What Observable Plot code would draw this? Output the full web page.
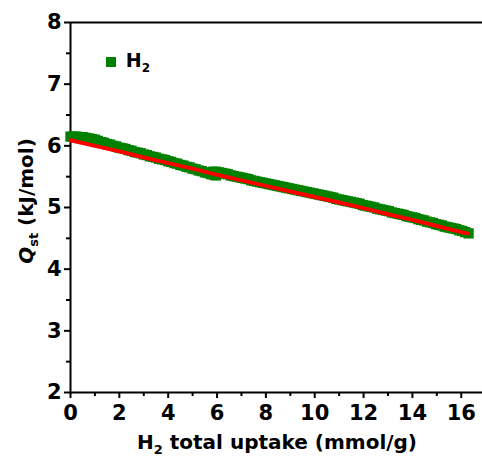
<!DOCTYPE html>
<html><head><meta charset="utf-8">
<script src="https://cdn.jsdelivr.net/npm/d3@7"></script>
<script src="https://cdn.jsdelivr.net/npm/@observablehq/plot@0.6"></script>
<style>
html,body{margin:0;padding:0;background:#fff;}
svg{font-family:"DejaVu Sans",sans-serif;}
svg text{font-weight:bold;fill:#000;}
</style></head>
<body><div id="chart"></div>
<script>
// Measured data (green squares), two runs
const seg1X = [0, 0.125, 0.25, 0.375, 0.5, 0.625, 0.75, 0.875, 1, 1.125, 1.25, 1.375, 1.5, 1.625, 1.75, 1.875, 2, 2.125, 2.25, 2.375, 2.5, 2.625, 2.75, 2.875, 3, 3.125, 3.25, 3.375, 3.5, 3.625, 3.75, 3.875, 4, 4.125, 4.25, 4.375, 4.5, 4.625, 4.75, 4.875, 5, 5.125, 5.25, 5.375, 5.5, 5.625, 5.75, 5.875, 5.96];
const seg1Y = [6.15, 6.15, 6.15, 6.14, 6.14, 6.13, 6.12, 6.11, 6.10, 6.08, 6.06, 6.05, 6.03, 6.02, 6.00, 5.99, 5.97, 5.96, 5.95, 5.93, 5.92, 5.90, 5.89, 5.88, 5.86, 5.85, 5.83, 5.82, 5.81, 5.79, 5.78, 5.77, 5.75, 5.74, 5.72, 5.71, 5.69, 5.68, 5.66, 5.65, 5.63, 5.62, 5.60, 5.59, 5.57, 5.56, 5.54, 5.53, 5.52];
const seg2X = [5.84, 5.96, 6.08, 6.2, 6.32, 6.44, 6.56, 6.68, 6.8, 6.92, 7.04, 7.16, 7.28, 7.4, 7.52, 7.64, 7.76, 7.88, 8, 8.12, 8.24, 8.36, 8.48, 8.6, 8.72, 8.84, 8.96, 9.08, 9.2, 9.32, 9.44, 9.56, 9.68, 9.8, 9.92, 10.04, 10.16, 10.28, 10.4, 10.52, 10.64, 10.76, 10.88, 11, 11.12, 11.24, 11.36, 11.48, 11.6, 11.72, 11.84, 11.96, 12.08, 12.2, 12.32, 12.44, 12.56, 12.68, 12.8, 12.92, 13.04, 13.16, 13.28, 13.4, 13.52, 13.64, 13.76, 13.88, 14, 14.12, 14.24, 14.36, 14.48, 14.6, 14.72, 14.84, 14.96, 15.08, 15.2, 15.32, 15.44, 15.56, 15.68, 15.8, 15.92, 16.04, 16.16, 16.3];
const seg2Y = [5.58, 5.58, 5.57, 5.56, 5.55, 5.54, 5.52, 5.51, 5.50, 5.49, 5.48, 5.47, 5.46, 5.44, 5.43, 5.42, 5.41, 5.40, 5.39, 5.38, 5.37, 5.36, 5.35, 5.34, 5.33, 5.32, 5.31, 5.30, 5.29, 5.28, 5.27, 5.26, 5.25, 5.24, 5.23, 5.22, 5.21, 5.20, 5.19, 5.18, 5.17, 5.16, 5.14, 5.13, 5.12, 5.11, 5.10, 5.09, 5.08, 5.07, 5.06, 5.04, 5.03, 5.02, 5.01, 5.00, 4.98, 4.97, 4.96, 4.95, 4.94, 4.92, 4.91, 4.90, 4.89, 4.88, 4.86, 4.85, 4.84, 4.83, 4.81, 4.80, 4.79, 4.77, 4.76, 4.75, 4.73, 4.72, 4.71, 4.69, 4.68, 4.67, 4.66, 4.65, 4.63, 4.62, 4.60, 4.58];
// Fit (red line)
const fitX = [0, 1, 2, 3, 4, 5, 6, 7, 8, 9, 10, 11, 12, 13, 14, 15, 16, 16.25];
const fitY = [6.09, 6.00, 5.91, 5.81, 5.72, 5.63, 5.53, 5.44, 5.35, 5.26, 5.17, 5.08, 4.99, 4.89, 4.80, 4.70, 4.60, 4.58];
const xTicks = [0, 2, 4, 6, 8, 10, 12, 14, 16];
const xMinor = [1, 3, 5, 7, 9, 11, 13, 15];
const yTicks = [2, 3, 4, 5, 6, 7, 8];
const yMinor = [2.5, 3.5, 4.5, 5.5, 6.5, 7.5];

const pts1 = seg1X.map((x, i) => ({x, y: seg1Y[i]}));
const pts2 = seg2X.map((x, i) => ({x, y: seg2Y[i]}));
const fit = fitX.map((x, i) => ({x, y: fitY[i]}));

const chart = Plot.plot({
  width: 482, height: 459,
  marginLeft: 70, marginTop: 22, marginBottom: 67, marginRight: 0,
  x: {domain: [0, 16.87]},
  y: {domain: [2, 8]},
  style: {fontFamily: "DejaVu Sans, sans-serif", fontWeight: "bold", fontSize: "21px", color: "#000"},
  marks: [
    Plot.axisX({ticks: xTicks, tickSize: 6, tickPadding: 7, strokeWidth: 2, fontSize: 21, tickFormat: d => String(d), label: null}),
    Plot.axisX({ticks: xMinor, tickSize: 4, strokeWidth: 2, text: null, label: null}),
    Plot.axisY({ticks: yTicks, tickSize: 6, tickPadding: 3, strokeWidth: 2, fontSize: 21, tickFormat: d => String(d), label: null}),
    Plot.axisY({ticks: yMinor, tickSize: 4, strokeWidth: 2, text: null, label: null}),
    Plot.ruleY([8], {stroke: "#000", strokeWidth: 2}),
    Plot.ruleY([2], {stroke: "#000", strokeWidth: 2}),
    Plot.ruleX([0], {stroke: "#000", strokeWidth: 2}),
    Plot.dot(pts1, {x: "x", y: "y", symbol: "square", r: 5.8, fill: "#008000", stroke: "none"}),
    Plot.dot(pts2, {x: "x", y: "y", symbol: "square", r: 5.8, fill: "#008000", stroke: "none"}),
    Plot.line(fit, {x: "x", y: "y", stroke: "#ff0000", strokeWidth: 4})
  ]
});
document.getElementById("chart").appendChild(chart);

const svg = d3.select(chart);
// Legend
svg.append("rect").attr("x", 106).attr("y", 57).attr("width", 10).attr("height", 10).attr("fill", "#008000");
const lg = svg.append("text").attr("x", 138).attr("y", 67).attr("font-size", 19).attr("font-weight", "bold").attr("fill", "#000");
lg.append("tspan").text("H");
lg.append("tspan").attr("font-size", 12).attr("dy", 5).text("2");
// X title
const xt = svg.append("text").attr("x", 277).attr("y", 449).attr("text-anchor", "middle").attr("font-size", 20).attr("font-weight", "bold").attr("fill", "#000");
xt.append("tspan").text("H");
xt.append("tspan").attr("font-size", 13).attr("dy", 5).text("2");
xt.append("tspan").attr("dy", -5).text(" total uptake (mmol/g)");
// Y title
const yt = svg.append("text").attr("transform", "translate(33,201) rotate(-90)").attr("text-anchor", "middle").attr("font-size", 20).attr("font-weight", "bold").attr("fill", "#000");
yt.append("tspan").attr("font-style", "italic").text("Q");
yt.append("tspan").attr("font-size", 13).attr("dy", 5).text("st");
yt.append("tspan").attr("dy", -5).text(" (kJ/mol)");
</script></body></html>
